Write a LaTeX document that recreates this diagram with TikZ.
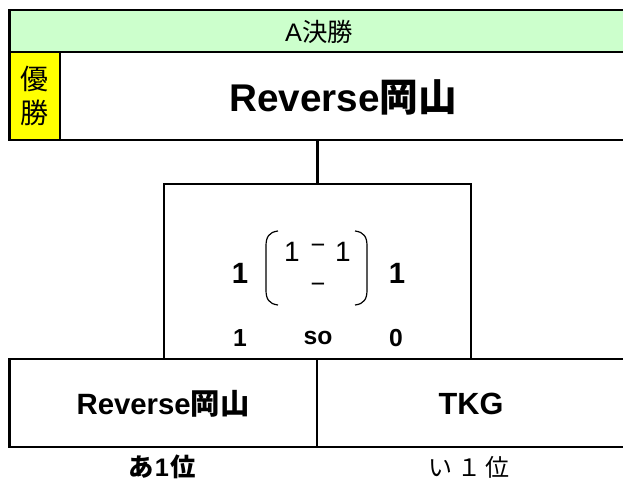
\documentclass[tikz,border=0pt]{standalone}
\usepackage{fontspec}
\setmainfont{Liberation Sans}
\newfontfamily\jp{Noto Sans CJK JP}
\definecolor{hdrgreen}{HTML}{CCFFCC}
\definecolor{winyellow}{HTML}{FFFF00}
\begin{document}
\begin{tikzpicture}[x=0.75pt,y=-0.75pt,
  cell/.style={draw=black, line width=2pt, rectangle, inner sep=0pt, outer sep=0pt, anchor=center},
  txt/.style={inner sep=0pt, outer sep=0pt, anchor=center},
  bracket/.style={draw=black, line width=0.9pt},
  link/.style={draw=black, line width=2pt}]
\useasboundingbox (0,0) rectangle (623,481);
\fill[white] (0,0) rectangle (623,481);
% header
\node[cell, fill=hdrgreen, minimum width=617.5*0.75pt, minimum height=42*0.75pt] (hdr) at (318.25,31) {};
\node[txt, font=\fontsize{19}{22}\selectfont] (hdrtxt) at (319,32) {A{\jp 決勝}};
% winner row
\node[cell, fill=winyellow, minimum width=50.5*0.75pt, minimum height=88*0.75pt] (yus) at (34.75,96) {};
\node[txt, font=\fontsize{21}{26}\selectfont\jp, align=center] (yustxt) at (35,96) {優\\[0pt]勝};
\node[cell, fill=white, minimum width=567*0.75pt, minimum height=88*0.75pt] (win) at (343.5,96) {};
\node[txt, font=\fontsize{29}{31}\selectfont\bfseries] (wintxt) at (343,97) {Reverse{\jp 岡山}};
% match box
\node[cell, fill=white, minimum width=307*0.75pt, minimum height=175*0.75pt] (match) at (317.5,271.5) {};
\draw[link] (match.north) -- (match.north |- win.south);
% score
\node[txt, font=\fontsize{22}{26}\selectfont\bfseries] (sl) at (240,273) {1};
\node[txt, font=\fontsize{22}{26}\selectfont\bfseries] (sr) at (397,273) {1};
\node[txt, font=\fontsize{21}{24}\selectfont] (s1a) at (292,252) {1};
\node[txt, font=\fontsize{19}{22}\selectfont] (s1d) at (318,249) {−};
\node[txt, font=\fontsize{21}{24}\selectfont] (s1b) at (343,252) {1};
\node[txt, font=\fontsize{19}{22}\selectfont] (s2d) at (318,288) {−};
\draw[bracket] (278,231) .. controls (269,232) and (266,237) .. (266,246) -- (266,290) .. controls (266,299) and (269,304) .. (278,305);
\draw[bracket] (355,231) .. controls (364,232) and (367,237) .. (367,246) -- (367,290) .. controls (367,299) and (364,304) .. (355,305);
\node[txt, font=\fontsize{18.5}{21}\selectfont\bfseries] (pl) at (240,338) {1};
\node[txt, font=\fontsize{18.5}{21}\selectfont\bfseries] (pso) at (318,338) {so};
\node[txt, font=\fontsize{18.5}{21}\selectfont\bfseries] (pr) at (396,338) {0};
% bottom row
\node[cell, fill=white, minimum width=307.5*0.75pt, minimum height=88*0.75pt] (teamA) at (163.25,403) {};
\node[cell, fill=white, minimum width=310*0.75pt, minimum height=88*0.75pt] (teamB) at (472,403) {};
\node[txt, font=\fontsize{22}{26}\selectfont\bfseries] (teamAtxt) at (163,404) {Reverse{\jp 岡山}};
\node[txt, font=\fontsize{23}{26}\selectfont\bfseries] (teamBtxt) at (471,404) {TKG};
% labels
\node[txt, font=\fontsize{19}{22}\selectfont\bfseries] (labA) at (162,467) {{\jp あ}\hspace{1pt}1\hspace{1pt}{\jp 位}};
\node[txt, font=\fontsize{18}{21}\selectfont\jp] (labB) at (469,467) {い\hspace{4pt}１\hspace{3pt}位};
\end{tikzpicture}
\end{document}
